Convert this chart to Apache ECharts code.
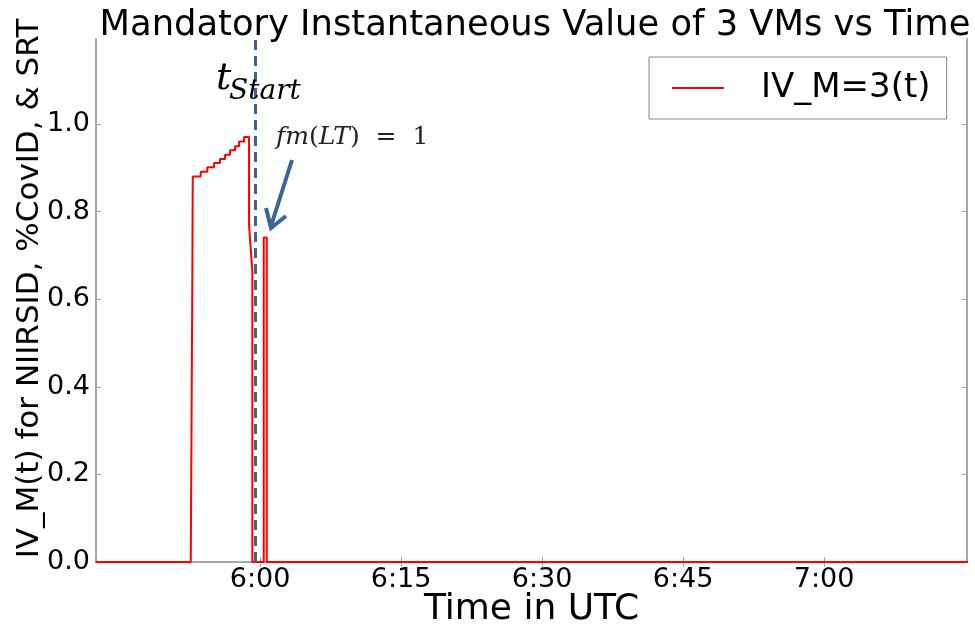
<!DOCTYPE html>
<html>
<head>
<meta charset="utf-8">
<script src="https://cdn.jsdelivr.net/npm/echarts@6/dist/echarts.min.js"></script>
<style>
html,body{margin:0;padding:0;background:#fff;}
#chart{width:975px;height:627px;}
</style>
</head>
<body>
<div id="chart"></div>
<script>
// ---- data (time in minutes since 00:00 UTC) ----
const xTickValues = [360, 375, 390, 405, 420];
const xTickLabels = ['6:00', '6:15', '6:30', '6:45', '7:00'];
const yTickValues = [0, 0.2, 0.4, 0.6, 0.8, 1.0];
const xMin = 342.55;
const xMax = 435.2;
const yMax = 1.194;
const tStart = 359.54;
const timeMin = [
  342.5, 352.63, 352.80, 352.84,
  353.69, 353.69, 354.39, 354.39, 355.11, 355.11, 355.74, 355.74,
  356.28, 356.28, 356.81, 356.81, 357.34, 357.34, 357.77, 357.77,
  358.30, 358.30, 358.83, 358.83, 359.18, 359.18,
  360.39, 360.39, 360.71, 360.71, 435.3
];
const ivM3 = [
  0, 0, 0.66, 0.88,
  0.88, 0.891, 0.891, 0.901, 0.901, 0.911, 0.911, 0.920,
  0.920, 0.930, 0.930, 0.940, 0.940, 0.949, 0.949, 0.960,
  0.960, 0.970, 0.970, 0.769, 0.663, 0,
  0, 0.741, 0.741, 0, 0
];
const seriesName = 'IV_M=3(t)';

const chart = echarts.init(document.getElementById('chart'));
const gray = '#a6a6a6';
const blue = '#3B6597';
const font = 'DejaVu Sans';

function fmtTime(v) {
  const idx = xTickValues.indexOf(v);
  if (idx >= 0) return xTickLabels[idx];
  const h = Math.floor(v / 60);
  const m = Math.round(v - h * 60);
  return h + ':' + (m < 10 ? '0' : '') + m;
}

const baseX = {
  type: 'value', min: xMin, max: xMax,
  axisLine: { show: true, lineStyle: { color: gray, width: 2 } },
  axisTick: { show: true, inside: true, length: 5, customValues: xTickValues, lineStyle: { color: gray } },
  splitLine: { show: false }
};
const baseY = {
  type: 'value', min: 0, max: yMax,
  axisLine: { show: true, lineStyle: { color: gray, width: 2 } },
  axisTick: { show: true, inside: true, length: 5, customValues: yTickValues, lineStyle: { color: gray } },
  splitLine: { show: false }
};

chart.setOption({
  animation: false,
  backgroundColor: '#fff',
  title: {
    text: 'Mandatory Instantaneous Value of 3 VMs vs Time',
    left: 530, top: 3, textAlign: 'center',
    textStyle: { fontFamily: font, fontSize: 35.3, fontWeight: 'normal', color: '#000' }
  },
  grid: { left: 96, right: 8, top: 39, bottom: 65, containLabel: false, outerBoundsMode: 'none' },
  legend: {
    data: [{ name: seriesName, icon: 'rect' }],
    left: 649, top: 57,
    padding: [14, 16, 14, 23],
    itemWidth: 52, itemHeight: 2,
    backgroundColor: '#fff', borderColor: '#888', borderWidth: 1, borderRadius: 0,
    textStyle: { fontFamily: font, fontSize: 34, color: '#000', padding: [0, 0, 0, 32] }
  },
  xAxis: [
    Object.assign({}, baseX, {
      position: 'bottom',
      name: 'Time in UTC', nameLocation: 'middle', nameGap: 48, nameMoveOverlap: false,
      nameTextStyle: { fontFamily: font, fontSize: 36, color: '#000', verticalAlign: 'middle' },
      axisLabel: { show: true, customValues: xTickValues, margin: 4, fontFamily: font, fontSize: 27, color: '#000',
        formatter: v => fmtTime(v) }
    }),
    Object.assign({}, baseX, { position: 'top', axisLabel: { show: false } })
  ],
  yAxis: [
    Object.assign({}, baseY, {
      position: 'left',
      name: 'IV_M(t) for NIIRSID, %CovID, & SRT', nameLocation: 'middle', nameGap: 51, nameRotate: 90,
      nameMoveOverlap: false,
      nameTextStyle: { fontFamily: font, fontSize: 31, color: '#000', padding: [0, 0, 0, 24] },
      axisLabel: { show: true, customValues: yTickValues, margin: 6, fontFamily: font, fontSize: 27, color: '#000',
        formatter: v => v.toFixed(1) }
    }),
    Object.assign({}, baseY, { position: 'right', axisLabel: { show: false } })
  ],
  series: [{
    name: seriesName,
    type: 'line',
    xAxisIndex: 0, yAxisIndex: 0,
    symbol: 'none',
    lineStyle: { color: '#ff0000', width: 2 },
    itemStyle: { color: '#ff0000' },
    data: timeMin.map((t, i) => [t, ivM3[i]]),
    z: 3,
    markLine: {
      silent: true, symbol: ['none', 'none'],
      label: { show: false },
      lineStyle: { color: blue, width: 3, type: [10, 6] },
      data: [{ xAxis: tStart }]
    }
  }],
  graphic: [
    { type: 'text', left: 216, top: 60, z: 10,
      style: { text: 't', font: 'italic 38px "DejaVu Serif"', fill: '#000' } },
    { type: 'text', left: 229, top: 78, z: 10,
      style: { text: 'Start', font: 'italic 28px "DejaVu Serif"', fill: '#000' } },
    { type: 'text', left: 276, top: 125, z: 10,
      style: { text: '{i|fm}{n|(}{i|LT}{n|)  =  1}',
        rich: {
          i: { fontFamily: 'DejaVu Serif', fontStyle: 'italic', fontSize: 25, fill: '#222' },
          n: { fontFamily: 'DejaVu Serif', fontSize: 25, fill: '#222' }
        } } },
    { type: 'line', z: 10, shape: { x1: 292, y1: 160, x2: 271, y2: 226 },
      style: { stroke: blue, lineWidth: 4 } },
    { type: 'polyline', z: 10, shape: { points: [[266, 208], [271, 228], [286, 216]] },
      style: { stroke: blue, lineWidth: 4, fill: null, lineJoin: 'miter' } }
  ]
});
</script>
</body>
</html>
